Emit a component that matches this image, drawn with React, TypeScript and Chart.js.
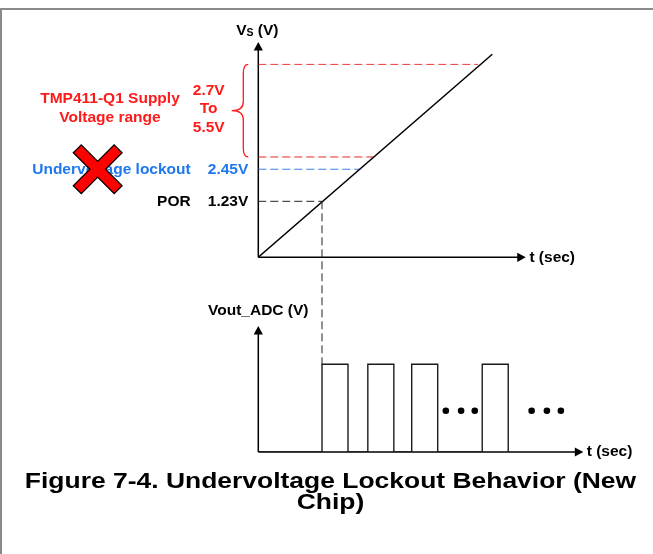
import React, { useEffect, useRef } from 'react';
import { Chart, registerables } from 'chart.js';

Chart.register(...registerables);

// ---- schematic data (arbitrary diagram units) ----
// shared time axis of both panels
const timeMax = 100;            // bottom panel arrow tip
const topTimeAxisEnd = 82.3;    // top panel arrow tip
// supply ramp Vs(t)
const rampTimes = [0, 72.0];
const rampLevels = [0, 94.3];
const vsAxisTop = 100;
const vsAxisMin = -90.43;
// level markers on the Vs axis
const levelLabels = ['5.5V', '2.7V', '2.45V', '1.23V'];
const levelValues = [89.6, 46.6, 40.9, 26.0];
const levelEndTimes = [67.6, 35.4, 31.4, 19.6];
const levelColors = ['#ee3b3b', '#e52626', '#3b7fe6', '#222222'];
const levelNames = ['', '', 'Undervoltage lockout', 'POR'];
const levelTextColors = ['#ff1a1a', '#ff1a1a', '#1f78f0', '#000000'];
// ADC output pulses
const pulseRise = [19.6, 33.7, 47.2, 68.9];
const pulseFall = [27.6, 41.7, 55.2, 76.9];
const pulseHigh = 1;
const outAxisTop = 1.437;
const outAxisMax = 4.675;
const dotTimes = [57.7, 62.4, 66.6, 84.1, 88.8, 93.1];
const dotLevel = 0.47;
// texts
const supplyTitle = ['TMP411-Q1 Supply', 'Voltage range'];
const supplyRange = ['2.7V', 'To', '5.5V'];
const titleLines = ['Figure 7-4. Undervoltage Lockout Behavior (New', 'Chip)'];

const FONT = '"Liberation Sans", Arial, Helvetica, sans-serif';

function arrowUp(ctx: CanvasRenderingContext2D, x: number, y: number) {
  ctx.beginPath();
  ctx.moveTo(x, y);
  ctx.lineTo(x - 4.6, y + 8.5);
  ctx.lineTo(x + 4.6, y + 8.5);
  ctx.closePath();
  ctx.fill();
}
function arrowRight(ctx: CanvasRenderingContext2D, x: number, y: number) {
  ctx.beginPath();
  ctx.moveTo(x, y);
  ctx.lineTo(x - 8.5, y - 4.6);
  ctx.lineTo(x - 8.5, y + 4.6);
  ctx.closePath();
  ctx.fill();
}

const diagramPlugin = {
  id: 'diagram',
  beforeDatasetsDraw(chart: any) {
    const ctx: CanvasRenderingContext2D = chart.ctx;
    const xs = chart.scales.x, yv = chart.scales.yV, yo = chart.scales.yOut;
    const ax = xs.getPixelForValue(0);
    ctx.save();
    // frame
    ctx.strokeStyle = '#8a8a8a';
    ctx.lineWidth = 2;
    ctx.beginPath();
    ctx.moveTo(0, 9); ctx.lineTo(chart.width, 9);
    ctx.moveTo(1, 8); ctx.lineTo(1, chart.height);
    ctx.stroke();
    // axes
    ctx.strokeStyle = '#000';
    ctx.fillStyle = '#000';
    ctx.lineWidth = 1.5;
    const y0v = yv.getPixelForValue(0);
    const topV = yv.getPixelForValue(vsAxisTop);
    const endT = xs.getPixelForValue(topTimeAxisEnd);
    const y0o = yo.getPixelForValue(0);
    const topO = yo.getPixelForValue(outAxisTop);
    const endB = xs.getPixelForValue(timeMax);
    ctx.beginPath();
    ctx.moveTo(ax, y0v); ctx.lineTo(ax, topV + 6);
    ctx.moveTo(ax, y0v); ctx.lineTo(endT - 6, y0v);
    ctx.moveTo(ax, y0o); ctx.lineTo(ax, topO + 6);
    ctx.moveTo(ax, y0o); ctx.lineTo(endB - 6, y0o);
    ctx.stroke();
    arrowUp(ctx, ax, topV);
    arrowRight(ctx, endT, y0v);
    arrowUp(ctx, ax, topO);
    arrowRight(ctx, endB, y0o);
    ctx.restore();
  },
  afterDatasetsDraw(chart: any) {
    const ctx: CanvasRenderingContext2D = chart.ctx;
    const xs = chart.scales.x, yv = chart.scales.yV, yo = chart.scales.yOut;
    const ax = xs.getPixelForValue(0);
    const y0v = yv.getPixelForValue(0);
    const topV = yv.getPixelForValue(vsAxisTop);
    const endT = xs.getPixelForValue(topTimeAxisEnd);
    const y0o = yo.getPixelForValue(0);
    const topO = yo.getPixelForValue(outAxisTop);
    const endB = xs.getPixelForValue(timeMax);
    ctx.save();

    // POR connector between the panels
    const tPor = levelEndTimes[3];
    ctx.strokeStyle = '#222';
    ctx.lineWidth = 1;
    ctx.setLineDash([8, 4]);
    ctx.beginPath();
    ctx.moveTo(xs.getPixelForValue(tPor), yv.getPixelForValue(levelValues[3]));
    ctx.lineTo(xs.getPixelForValue(tPor), yo.getPixelForValue(pulseHigh));
    ctx.stroke();
    ctx.setLineDash([]);

    const f = (s: number) => `bold ${s}px ${FONT}`;
    ctx.textBaseline = 'middle';

    // axis titles
    ctx.fillStyle = '#000';
    {
      ctx.font = f(15.5);
      const wV = ctx.measureText('V').width;
      const wP = ctx.measureText(' (V)').width;
      ctx.font = f(10.5);
      const wS = ctx.measureText('S').width;
      let x = ax - 1 - (wV + wS + wP) / 2;
      const base = topV - 7.3;
      ctx.textBaseline = 'alphabetic';
      ctx.textAlign = 'left';
      ctx.font = f(15.5);
      ctx.fillText('V', x, base); x += wV;
      ctx.font = f(10.5);
      ctx.fillText('S', x, base + 1); x += wS;
      ctx.font = f(15.5);
      ctx.fillText(' (V)', x, base);
      ctx.textBaseline = 'middle';
    }
    ctx.font = f(15.5);
    ctx.textAlign = 'left';
    ctx.fillText('t (sec)', endT + 3.6, y0v);
    ctx.fillText('t (sec)', endB + 3.4, y0o);
    ctx.textAlign = 'center';
    ctx.fillText('Vout_ADC (V)', ax, topO - 15.3);

    // level labels
    ctx.textAlign = 'right';
    for (let i = 2; i < levelLabels.length; i++) {
      const y = yv.getPixelForValue(levelValues[i]);
      ctx.fillStyle = levelTextColors[i];
      ctx.fillText(levelLabels[i], ax - 10, y);
      ctx.fillText(levelNames[i], ax - 67.6, y);
    }

    // supply range brace & texts
    const yTop = yv.getPixelForValue(levelValues[0]);
    const yBot = yv.getPixelForValue(levelValues[1]);
    const mid = (yTop + yBot) / 2;
    const xEnd = ax - 10, xStem = ax - 15, xTip = ax - 26.6;
    ctx.strokeStyle = '#ff1a1a';
    ctx.lineWidth = 1.3;
    ctx.beginPath();
    ctx.moveTo(xEnd, yTop);
    ctx.quadraticCurveTo(xStem, yTop, xStem, yTop + 9);
    ctx.lineTo(xStem, mid - 9);
    ctx.quadraticCurveTo(xStem, mid, xTip, mid);
    ctx.quadraticCurveTo(xStem, mid, xStem, mid + 9);
    ctx.lineTo(xStem, yBot - 9);
    ctx.quadraticCurveTo(xStem, yBot, xEnd, yBot);
    ctx.stroke();
    ctx.fillStyle = '#ff1a1a';
    ctx.textAlign = 'center';
    supplyRange.forEach((s, i) => ctx.fillText(s, ax - 49.6, mid - 1.7 + (i - 1) * 18.3));
    ctx.fillText(supplyTitle[0], ax - 148.3, mid - 12.4);
    ctx.fillText(supplyTitle[1], ax - 148.3, mid + 6.6);

    // cross over the undervoltage lockout label
    {
      const cx = ax - 160.6;
      const cy = yv.getPixelForValue(levelValues[2]);
      const drawX = (r: number, w: number, c: string) => {
        ctx.strokeStyle = c;
        ctx.lineWidth = w;
        ctx.lineCap = 'butt';
        const d = r * Math.SQRT1_2;
        ctx.beginPath();
        ctx.moveTo(cx - d, cy - d); ctx.lineTo(cx + d, cy + d);
        ctx.moveTo(cx + d, cy - d); ctx.lineTo(cx - d, cy + d);
        ctx.stroke();
      };
      drawX(29.5, 12.5, '#000');
      drawX(28.2, 10, '#ff0000');
    }

    // figure title
    ctx.fillStyle = '#000';
    ctx.font = f(21.5);
    ctx.textAlign = 'center';
    titleLines.forEach((s, i) => {
      ctx.save();
      ctx.translate(330.5, 481.7 + i * 21.6);
      ctx.scale(1.23, 1);
      ctx.fillText(s, 0, 0);
      ctx.restore();
    });
    ctx.restore();
  },
};

export default function App() {
  const ref = useRef<HTMLCanvasElement>(null);
  useEffect(() => {
    if (!ref.current) return;
    const pulseData: { x: number; y: number }[] = [{ x: 0, y: 0 }];
    pulseRise.forEach((r, i) => {
      pulseData.push({ x: r, y: 0 }, { x: r, y: pulseHigh }, { x: pulseFall[i], y: pulseHigh }, { x: pulseFall[i], y: 0 });
    });
    const datasets: any[] = [
      {
        data: rampTimes.map((t, i) => ({ x: t, y: rampLevels[i] })),
        yAxisID: 'yV', borderColor: '#000', borderWidth: 1.5, showLine: true, pointRadius: 0,
      },
      ...levelValues.map((v, i) => ({
        data: [{ x: 0, y: v }, { x: levelEndTimes[i], y: v }],
        yAxisID: 'yV', borderColor: levelColors[i], borderWidth: 1, borderDash: [8, 4],
        showLine: true, pointRadius: 0,
      })),
      {
        data: pulseData, yAxisID: 'yOut', borderColor: '#1a1a1a', borderWidth: 1.4,
        showLine: true, pointRadius: 0,
      },
      {
        data: dotTimes.map((t) => ({ x: t, y: dotLevel })), yAxisID: 'yOut',
        showLine: false, pointRadius: 3.3, pointBackgroundColor: '#000', pointBorderWidth: 0,
      },
    ];
    const chart = new Chart(ref.current, {
      type: 'scatter',
      data: { datasets },
      options: {
        responsive: false,
        animation: false,
        events: [],
        layout: { padding: { left: 258.3, right: 69.7, top: 42, bottom: 102 } },
        plugins: { legend: { display: false }, tooltip: { enabled: false } },
        scales: {
          x: { type: 'linear', display: false, min: 0, max: timeMax },
          yV: { type: 'linear', axis: 'y', display: false, min: vsAxisMin, max: vsAxisTop },
          yOut: { type: 'linear', axis: 'y', display: false, min: 0, max: outAxisMax },
        },
      } as any,
      plugins: [diagramPlugin],
    });
    return () => chart.destroy();
  }, []);
  return (
    <div style={{ position: 'absolute', left: 0, top: 0, width: 653, height: 554, background: '#fff' }}>
      <canvas ref={ref} width={653} height={554} style={{ display: 'block' }} />
    </div>
  );
}
